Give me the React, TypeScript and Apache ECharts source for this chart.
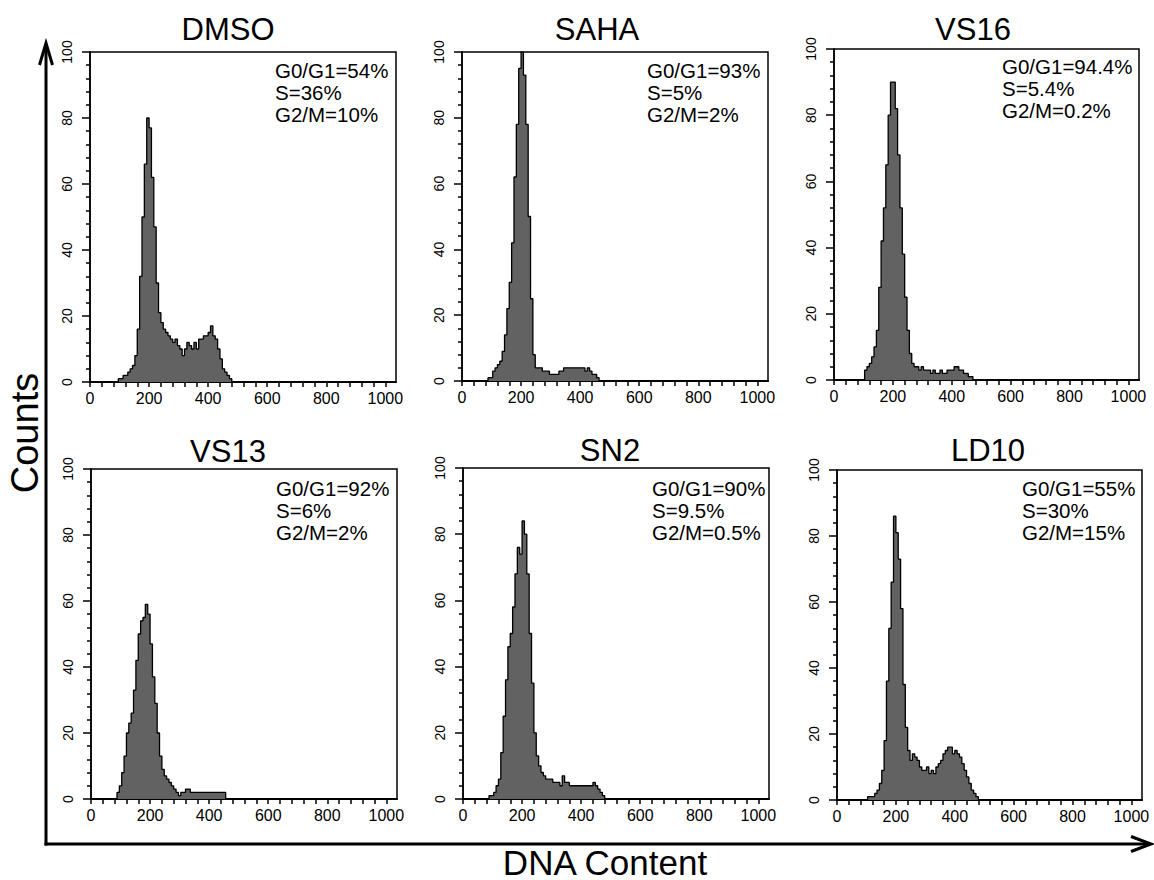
import React, { useEffect, useRef } from "react";
import * as echarts from "echarts";

// DNA content channels (bin start), bin width 8
const CHANNELS = [80, 88, 96, 104, 112, 120, 128, 136, 144, 152, 160, 168, 176, 184, 192, 200, 208, 216, 224, 232, 240, 248, 256, 264, 272, 280, 288, 296, 304, 312, 320, 328, 336, 344, 352, 360, 368, 376, 384, 392, 400, 408, 416, 424, 432, 440, 448, 456, 464, 472, 480, 488, 496];

const SAMPLES = ["DMSO", "SAHA", "VS16", "VS13", "SN2", "LD10"];

const DMSO = [0, 0, 1, 1, 2, 2, 3, 4, 5, 8, 16, 32, 50, 66, 80, 77, 62, 47, 30, 21, 18, 16, 15, 14, 13, 12, 13, 11, 10, 8, 10, 12, 11, 10, 12, 10, 13, 13, 14, 14, 15, 17, 14, 13, 10, 7, 4, 3, 2, 1, 0, 0, 0];
const SAHA = [0, 1, 1, 3, 4, 5, 6, 9, 14, 22, 30, 42, 62, 78, 95, 100, 93, 78, 50, 25, 8, 4, 4, 4, 3, 3, 3, 2, 2, 2, 2, 3, 3, 4, 4, 4, 4, 4, 4, 4, 4, 4, 3, 4, 3, 2, 2, 1, 0, 0, 0, 0, 0];
const VS16 = [0, 0, 0, 3, 4, 5, 7, 10, 15, 28, 42, 52, 65, 80, 90, 90, 82, 68, 52, 38, 25, 15, 8, 5, 4, 4, 3, 4, 3, 3, 3, 2, 3, 2, 2, 3, 2, 2, 3, 3, 3, 4, 4, 3, 3, 2, 2, 1, 1, 0, 0, 0, 0];
const VS13 = [0, 2, 4, 8, 13, 20, 23, 26, 33, 42, 50, 54, 55, 59, 56, 47, 37, 29, 20, 13, 9, 7, 6, 5, 4, 3, 2, 1, 2, 2, 3, 3, 2, 2, 2, 2, 2, 2, 2, 2, 2, 2, 2, 2, 2, 2, 2, 0, 0, 0, 0, 0, 0];
const SN2 = [0, 1, 1, 2, 4, 6, 14, 25, 36, 46, 50, 58, 68, 76, 74, 84, 80, 68, 50, 35, 20, 13, 10, 8, 7, 6, 6, 6, 5, 5, 5, 4, 7, 5, 5, 4, 4, 4, 4, 4, 4, 4, 4, 4, 4, 5, 4, 3, 2, 1, 0, 0, 0];
const LD10 = [0, 0, 0, 1, 1, 1, 2, 3, 5, 9, 18, 36, 52, 66, 86, 81, 73, 58, 35, 22, 15, 12, 14, 13, 12, 10, 9, 9, 10, 8, 9, 8, 10, 11, 12, 14, 15, 16, 16, 14, 15, 14, 13, 11, 9, 7, 5, 3, 2, 1, 0, 0, 0];

const COUNTS = [DMSO, SAHA, VS16, VS13, SN2, LD10];

const G0G1 = ["54%", "93%", "94.4%", "92%", "90%", "55%"];
const S_PHASE = ["36%", "5%", "5.4%", "6%", "9.5%", "30%"];
const G2M = ["10%", "2%", "0.2%", "2%", "0.5%", "15%"];

const X_TICKS = [0, 40, 80, 120, 160, 200, 240, 280, 320, 360, 400, 440, 480, 520, 560, 600, 640, 680, 720, 760, 800, 840, 880, 920, 960, 1000];
const X_LABELS = [0, 200, 400, 600, 800, 1000];

// layout: grid [left, top, width, height], title center, note first line [left, centerY]
const LAYOUT = [
  { grid: [90, 52, 306, 330], title: [228, 29], note: [275, 70] },
  { grid: [462, 52, 306, 329], title: [597, 29], note: [647, 70] },
  { grid: [834, 49, 305, 331], title: [973, 29], note: [1002, 66] },
  { grid: [91, 469, 306, 330], title: [228, 451], note: [276, 488] },
  { grid: [463, 468, 306, 331], title: [610, 450], note: [652, 488] },
  { grid: [837, 470, 305, 330], title: [988, 450], note: [1022, 488] },
];

const FONT = "'Liberation Sans', Arial, Helvetica, sans-serif";

export default function App() {
  const ref = useRef<HTMLDivElement>(null);

  useEffect(() => {
    if (!ref.current) return;
    const chart = echarts.init(ref.current, undefined, { renderer: "svg" });

    const grids: any[] = [];
    const xAxes: any[] = [];
    const yAxes: any[] = [];
    const series: any[] = [];
    const graphics: any[] = [];

    SAMPLES.forEach((name, i) => {
      const L = LAYOUT[i];
      grids.push({
        left: L.grid[0],
        top: L.grid[1],
        width: L.grid[2],
        height: L.grid[3],
        show: true,
        borderColor: "#000",
        borderWidth: 1.5,
        backgroundColor: "transparent",
      });
      xAxes.push({
        type: "value",
        gridIndex: i,
        min: 0,
        max: 1036,
        interval: 200,
        axisLine: { show: true, onZero: false, lineStyle: { color: "#000", width: 2 } },
        axisTick: { show: true, length: 5, customValues: X_TICKS, lineStyle: { color: "#000", width: 1.5 } },
        axisLabel: {
          customValues: X_LABELS,
          formatter: (v: number) => String(v),
          fontSize: 16,
          color: "#000",
          margin: 8,
          fontFamily: FONT,
        },
        splitLine: { show: false },
      });
      yAxes.push({
        type: "value",
        gridIndex: i,
        min: 0,
        max: 100,
        interval: 20,
        axisLine: { show: true, lineStyle: { color: "#000", width: 1.5 } },
        axisTick: { show: true, length: 8, lineStyle: { color: "#000", width: 1.5 } },
        minorTick: { show: true, splitNumber: 5, length: 4, lineStyle: { color: "#000", width: 1.5 } },
        axisLabel: { rotate: 90, fontSize: 14, margin: 16, color: "#000", fontFamily: FONT },
        splitLine: { show: false },
        minorSplitLine: { show: false },
      });
      series.push({
        type: "line",
        name,
        xAxisIndex: i,
        yAxisIndex: i,
        step: "end",
        symbol: "none",
        data: CHANNELS.map((c, k) => [c, COUNTS[i][k] ?? 0]),
        lineStyle: { color: "#000", width: 1.3 },
        areaStyle: { color: "#626262", opacity: 1 },
        clip: true,
      });
      graphics.push({
        type: "text",
        x: L.title[0],
        y: L.title[1],
        style: {
          text: name,
          fontSize: 31,
          fontFamily: FONT,
          fill: "#000",
          textAlign: "center",
          textVerticalAlign: "middle",
        },
      });
      const lines = ["G0/G1=" + G0G1[i], "S=" + S_PHASE[i], "G2/M=" + G2M[i]];
      lines.forEach((t, j) => {
        graphics.push({
          type: "text",
          x: L.note[0],
          y: L.note[1] + j * 22,
          style: {
            text: t,
            fontSize: 20.5,
            fontFamily: FONT,
            fill: "#000",
            textAlign: "left",
            textVerticalAlign: "middle",
          },
        });
      });
    });

    // big axes with arrows
    graphics.push(
      { type: "line", shape: { x1: 46, y1: 46, x2: 46, y2: 845.5 }, style: { stroke: "#000", lineWidth: 3 } },
      { type: "line", shape: { x1: 44.5, y1: 844, x2: 1148, y2: 844 }, style: { stroke: "#000", lineWidth: 3 } },
      {
        type: "polyline",
        shape: { points: [[39.5, 65], [46, 43], [52.5, 65]] },
        style: { stroke: "#000", lineWidth: 3, fill: "none" },
      },
      {
        type: "polyline",
        shape: { points: [[1131, 836.5], [1151, 844], [1131, 851.5]] },
        style: { stroke: "#000", lineWidth: 3, fill: "none" },
      },
      {
        type: "text",
        x: 25,
        y: 433,
        rotation: Math.PI / 2,
        style: { text: "Counts", fontSize: 38, fontFamily: FONT, fill: "#000", textAlign: "center", textVerticalAlign: "middle" },
      },
      {
        type: "text",
        x: 605,
        y: 862,
        style: { text: "DNA Content", fontSize: 35, fontFamily: FONT, fill: "#000", textAlign: "center", textVerticalAlign: "middle" },
      }
    );

    chart.setOption({
      animation: false,
      backgroundColor: "#fff",
      grid: grids,
      xAxis: xAxes,
      yAxis: yAxes,
      series,
      graphic: graphics,
    });

    return () => chart.dispose();
  }, []);

  return (
    <div
      ref={ref}
      style={{ position: "fixed", left: 0, top: 0, width: 1154, height: 880, background: "#fff" }}
    />
  );
}
